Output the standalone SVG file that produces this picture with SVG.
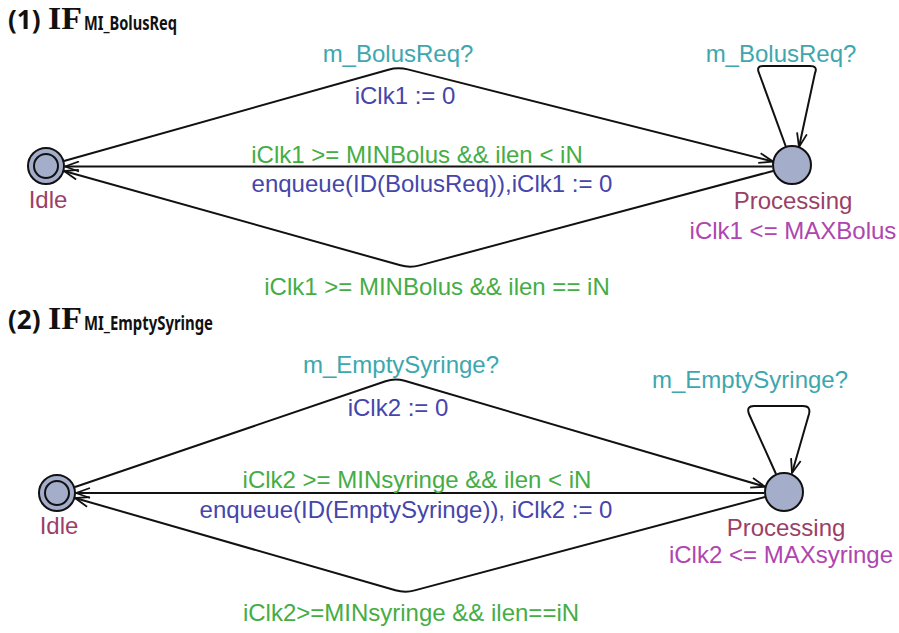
<svg xmlns="http://www.w3.org/2000/svg" width="899" height="633" viewBox="0 0 899 633">
<style>
.t{font-family:"Liberation Sans",Arial,sans-serif;font-size:24px;text-anchor:middle}
.sync{fill:#3da7ae}
.upd{fill:#4545ab}
.grd{fill:#45ad45}
.name{fill:#9b3f68}
.inv{fill:#ae45b0}
.title{font-family:"Noto Sans",sans-serif;font-weight:bold;fill:#111}
.serif{font-family:"Liberation Serif",serif;font-weight:bold}
.loc{fill:#a4adca;stroke:#111;stroke-width:2}
.edge{fill:none;stroke:#111;stroke-width:2;marker-end:url(#arr)}
</style>
<defs>
<marker id="arr" viewBox="0 0 16 12" refX="15" refY="6" markerWidth="16" markerHeight="12" markerUnits="userSpaceOnUse" orient="auto">
<path d="M1,1 L15,6 L1,11" fill="none" stroke="#111" stroke-width="1.8"/>
</marker>
</defs>
<rect width="899" height="633" fill="#fff"/>

<g id="title1">
<text class="title" x="8" y="29" font-size="26">(1)</text>
<text class="title serif" x="48" y="29" font-size="31" textLength="34" lengthAdjust="spacingAndGlyphs">IF</text>
<text class="title" x="84" y="30" font-size="19" textLength="93" lengthAdjust="spacingAndGlyphs">MI_BolusReq</text>
</g>
<g id="title2">
<text class="title" x="8" y="329" font-size="26">(2)</text>
<text class="title serif" x="48" y="329" font-size="31" textLength="34" lengthAdjust="spacingAndGlyphs">IF</text>
<text class="title" x="84" y="330" font-size="19" textLength="129" lengthAdjust="spacingAndGlyphs">MI_EmptySyringe</text>
</g>

<g id="connectors">
<path class="edge" d="M64,161 L388.4,69.7 Q398,67 407.7,69.4 L773,161.5"/>
<path class="edge" d="M772,166.5 L65,166.5"/>
<path class="edge" d="M773,171 L419.7,265.4 Q410,268 400.4,265.3 L64,171"/>
<path class="edge" d="M786,147 L759,73 Q756,66 763,66 L810,66 Q818,66 815,73 L799,147"/>

<path class="edge" d="M75,487 L385.5,381.2 Q395,378 404.6,380.8 L765,486.7"/>
<path class="edge" d="M764,493 L76,493"/>
<path class="edge" d="M765,497 L414.7,590.4 Q405,593 395.4,590.2 L75,498"/>
<path class="edge" d="M776,474 L749,414 Q746,406 754,406 L803,406 Q811,406 809,414 L792,473"/>
</g>

<g id="labels1">
<text class="t sync" x="398" y="62">m_BolusReq?</text>
<text class="t upd" x="405" y="104">iClk1 := 0</text>
<text class="t sync" x="781" y="62">m_BolusReq?</text>
<text class="t grd" x="417" y="163">iClk1 &gt;= MINBolus &amp;&amp; ilen &lt; iN</text>
<text class="t upd" x="432" y="192">enqueue(ID(BolusReq)),iClk1 := 0</text>
<text class="t grd" x="437" y="295">iClk1 &gt;= MINBolus &amp;&amp; ilen == iN</text>
</g>
<g id="labels2">
<text class="t sync" x="401" y="373">m_EmptySyringe?</text>
<text class="t upd" x="398" y="416">iClk2 := 0</text>
<text class="t sync" x="750" y="388">m_EmptySyringe?</text>
<text class="t grd" x="417" y="488">iClk2 &gt;= MINsyringe &amp;&amp; ilen &lt; iN</text>
<text class="t upd" x="406" y="518">enqueue(ID(EmptySyringe)), iClk2 := 0</text>
<text class="t grd" x="411" y="621">iClk2&gt;=MINsyringe &amp;&amp; ilen==iN</text>
</g>

<g id="idle1">
<circle class="loc" cx="46" cy="166" r="18"/>
<circle cx="46" cy="166" r="12" fill="none" stroke="#111" stroke-width="2"/>
<text class="t name" x="48" y="208">Idle</text>
</g>
<g id="processing1">
<circle class="loc" cx="792" cy="165" r="19"/>
<text class="t name" x="793" y="209">Processing</text>
<text class="t inv" x="793" y="239">iClk1 &lt;= MAXBolus</text>
</g>
<g id="idle2">
<circle class="loc" cx="57" cy="493" r="18"/>
<circle cx="57" cy="493" r="12" fill="none" stroke="#111" stroke-width="2"/>
<text class="t name" x="59" y="534">Idle</text>
</g>
<g id="processing2">
<circle class="loc" cx="784" cy="492" r="19"/>
<text class="t name" x="786" y="536">Processing</text>
<text class="t inv" x="781" y="563">iClk2 &lt;= MAXsyringe</text>
</g>
</svg>
